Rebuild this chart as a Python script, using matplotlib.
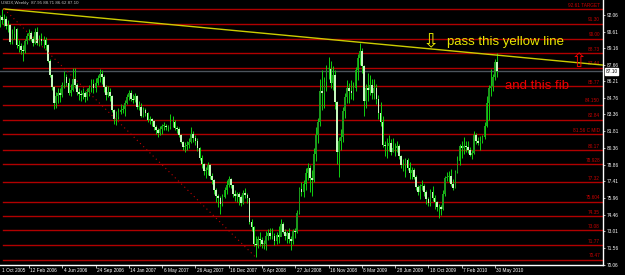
import numpy as np
import matplotlib.pyplot as plt
import matplotlib.transforms as mtransforms

plt.rcParams['font.family'] = ['Liberation Sans', 'DejaVu Sans']

# USDX weekly bars, first bar = week of 30 Oct 2005
first_open = 90.0
closes = [
    91.3, 91.9, 91.6, 91.7, 91.1, 91.2, 89.7, 90.4, 90.8,
    89.4, 89.3, 89.0, 88.9, 89.8, 90.2, 90.5, 90.0, 89.6, 90.6, 89.6, 90.0, 89.8,
    89.9, 89.4, 88.0, 86.8, 85.7, 84.3, 84.9, 85.2, 85.0, 85.9, 86.6, 86.1, 85.2,
    85.5, 86.4, 85.9, 85.3, 85.1, 85.0, 85.2, 84.8, 85.3, 85.6, 86.0, 85.6, 86.1,
    86.5, 86.9, 86.6, 85.7, 85.0, 85.3, 84.9, 83.7, 82.9, 83.1, 83.5, 83.7, 83.8, 84.3,
    84.8, 85.2, 84.7, 84.6, 84.9, 84.0, 84.0, 83.2, 83.7, 83.4, 82.8, 82.9,
    82.7, 82.2, 81.9, 81.7, 82.0, 82.3, 82.3, 82.2, 82.2, 82.6, 82.6, 82.1, 82.0,
    81.5, 80.9, 80.4, 80.5, 80.6, 80.9, 81.6, 81.2, 81.0, 80.3, 79.5, 78.9, 78.3,
    78.4, 78.8, 77.9, 77.5, 76.6, 76.1, 75.9, 75.4, 76.0, 76.6, 77.1, 77.6, 77.1, 76.3,
    76.1, 76.3, 76.0, 75.5, 76.4, 76.2, 75.9, 73.8, 73.4, 71.9, 71.8, 72.3,
    72.2, 71.9, 71.9, 72.6, 72.8, 72.6, 72.6, 72.1, 72.7, 72.5, 73.6, 72.9, 72.6,
    72.8, 72.3, 72.1, 73.0, 72.9, 74.6, 76.7, 76.5, 77.2, 78.1, 78.6, 77.7, 77.5,
    79.8, 81.5, 82.6, 85.4, 85.2, 86.2, 87.3, 87.3, 86.1, 86.8, 84.4, 80.0, 81.0, 81.3,
    83.6, 84.8, 85.6, 85.4, 85.2, 85.6, 87.2, 88.3, 88.9, 87.6, 84.5, 85.6,
    85.5, 85.9, 85.2, 85.6, 84.7, 83.4, 82.6, 80.6, 80.5, 80.5, 80.8, 80.0, 80.3,
    80.3, 80.5, 79.6, 78.8, 78.8, 79.3, 78.6, 78.1, 78.4, 77.8, 76.9, 76.5, 77.0,
    77.0, 76.5, 75.8, 75.5, 76.5, 75.9, 75.6, 75.1, 75.1, 75.0, 76.3, 77.7, 77.8, 77.9,
    77.2, 76.8, 78.2, 79.2, 80.5, 80.3, 80.5, 80.4, 80.2, 79.7, 79.9, 81.5,
    81.0, 80.8, 81.0, 81.3, 82.3, 84.3, 85.6, 85.8, 86.6, 87.9, 87.1,
]
highs = [
    91.5, 92.1, 92.6, 92.2, 92.0, 91.6, 91.3, 90.8, 91.1,
    90.9, 89.9, 89.6, 89.4, 90.0, 90.5, 90.8, 90.7, 90.2, 90.9, 91.0, 90.3, 90.5,
    90.2, 90.1, 89.5, 88.2, 86.9, 85.8, 85.3, 85.6, 85.6, 86.2, 87.1, 86.9, 86.5,
    86.0, 87.4, 87.4, 86.1, 85.6, 85.5, 85.6, 85.4, 85.6, 85.9, 86.4, 86.4, 86.5,
    86.8, 87.3, 87.2, 86.8, 85.9, 85.8, 85.6, 85.0, 83.8, 83.6, 83.9, 84.2, 84.1, 84.6,
    85.1, 85.5, 85.5, 85.1, 85.2, 85.0, 84.5, 84.3, 84.0, 83.9, 83.5, 83.2,
    83.0, 82.8, 82.4, 82.1, 82.3, 82.5, 82.6, 82.5, 82.4, 83.3, 83.2, 82.8, 82.3,
    82.2, 81.6, 81.0, 80.9, 81.0, 81.2, 82.2, 81.8, 81.5, 81.2, 80.4, 79.7, 79.0,
    78.7, 79.1, 78.9, 78.1, 77.6, 76.8, 76.3, 76.1, 76.3, 76.9, 77.5, 77.9, 77.7, 77.1,
    76.6, 76.5, 76.5, 76.2, 76.6, 76.8, 76.4, 75.8, 74.1, 73.5, 72.6, 72.6,
    72.9, 72.5, 72.2, 73.0, 73.2, 73.3, 73.3, 72.8, 72.9, 73.5, 74.1, 73.8, 73.2,
    73.0, 73.3, 72.6, 73.2, 73.3, 74.9, 76.9, 77.3, 77.5, 78.6, 79.0, 78.8, 78.4,
    80.3, 82.2, 83.0, 86.4, 87.2, 86.6, 87.7, 88.4, 88.0, 87.6, 87.2, 84.5, 81.3, 82.0,
    84.0, 85.2, 86.3, 86.1, 86.3, 86.2, 87.5, 88.6, 89.6, 89.2, 87.7, 86.0,
    87.0, 86.8, 86.4, 86.4, 86.0, 85.0, 84.4, 83.2, 81.0, 81.2, 81.5, 81.1, 81.2,
    80.8, 81.0, 80.7, 79.7, 79.4, 79.5, 79.5, 79.1, 78.7, 78.6, 78.0, 77.1, 77.2,
    77.5, 77.2, 76.6, 76.0, 76.7, 77.0, 76.2, 75.7, 75.4, 75.3, 76.6, 77.9, 78.2, 78.3,
    78.5, 77.6, 78.4, 79.6, 80.7, 81.0, 81.3, 81.0, 81.0, 80.4, 80.2, 81.8,
    81.7, 81.3, 81.4, 81.5, 82.6, 84.9, 85.9, 87.3, 86.9, 88.2, 88.7,
]
lows = [
    89.9, 91.0, 91.3, 91.1, 90.8, 90.6, 89.5, 89.5, 90.0,
    89.2, 88.8, 88.6, 88.0, 88.7, 89.5, 89.9, 89.8, 89.3, 89.5, 89.4, 89.3, 89.4,
    89.2, 89.0, 87.9, 86.6, 85.5, 83.8, 83.9, 84.3, 84.4, 84.8, 85.6, 85.8, 85.0,
    84.9, 85.4, 85.6, 85.0, 84.6, 84.5, 84.7, 84.4, 84.6, 84.9, 85.3, 85.2, 85.3,
    85.9, 86.2, 86.0, 85.3, 84.6, 84.8, 84.5, 83.5, 82.5, 82.4, 82.9, 83.3, 83.4, 83.2,
    84.2, 84.6, 84.5, 84.3, 84.4, 83.8, 83.7, 83.1, 83.1, 83.2, 82.6, 82.5,
    82.3, 81.9, 81.6, 81.3, 81.5, 81.6, 81.9, 81.9, 81.8, 82.0, 82.2, 81.9, 81.7,
    81.3, 80.8, 80.2, 80.0, 80.2, 80.3, 80.8, 80.9, 80.6, 80.1, 79.3, 78.6, 78.0,
    77.7, 78.0, 77.6, 77.2, 76.3, 75.6, 75.1, 74.5, 75.2, 75.9, 76.3, 76.9, 76.8, 76.0,
    75.7, 75.6, 75.3, 75.2, 75.4, 75.9, 75.5, 73.6, 73.0, 71.7, 70.7, 71.5,
    71.7, 71.5, 71.4, 71.3, 72.2, 72.3, 72.3, 71.8, 71.9, 72.0, 72.7, 72.8, 72.2,
    72.0, 72.0, 71.3, 71.9, 72.4, 72.8, 74.5, 76.1, 76.0, 76.6, 77.5, 76.5, 76.1,
    77.3, 79.2, 80.8, 82.3, 83.7, 83.9, 85.4, 86.4, 85.6, 85.5, 83.8, 78.9, 77.8, 80.2,
    80.9, 83.0, 84.3, 84.3, 84.7, 84.6, 85.4, 86.3, 87.7, 87.0, 83.2, 83.9,
    84.5, 85.0, 84.7, 84.7, 84.2, 82.9, 82.3, 80.4, 79.6, 79.5, 80.1, 79.7, 80.0,
    79.6, 80.0, 79.4, 78.6, 78.3, 77.8, 78.4, 77.6, 77.6, 77.6, 76.6, 76.2, 75.8,
    76.6, 76.1, 75.4, 75.2, 75.2, 75.7, 75.0, 74.8, 74.2, 74.4, 74.9, 76.1, 77.4, 77.3,
    77.0, 76.6, 76.8, 78.1, 78.8, 79.5, 79.8, 80.0, 79.9, 79.6, 79.4, 79.8,
    80.7, 80.6, 80.2, 80.8, 81.1, 82.2, 82.8, 84.9, 85.4, 86.3, 86.6,
]

# fibonacci levels (red lines) and their captions
fib_levels = [92.61, 91.30, 90.00, 88.73, 87.44, 85.77, 84.150, 82.84, 81.56,
              80.17, 78.928, 77.32, 75.604, 74.35, 73.08, 71.77, 70.47]
fib_labels = ['92.61 TARGET', '91.30', '90.00', '88.73', '87.44', '85.77', '84.150',
              '82.84', '81.56 C MID', '80.17', '78.928', '77.32', '75.604', '74.35',
              '73.08', '71.77', '70.47']

# trend line through the two tops, dotted line top -> 2008 low
trend_pts = [(3, 92.61), (174, 89.67)]
dotted_pts = [(3, 92.61), (124, 70.70)]

price_ticks = [92.06, 90.61, 89.16, 87.66, 86.21, 84.76, 83.36, 81.81, 80.36,
               78.86, 77.41, 75.96, 74.46, 73.01, 71.56, 70.06]
date_idx = [15, 31, 47, 63, 79, 95, 111, 127, 143, 159, 175, 191, 207, 223, 239]
date_labels = ['12 Feb 2006', '4 Jun 2006', '24 Sep 2006', '14 Jan 2007', '6 May 2007',
               '26 Aug 2007', '16 Dec 2007', '6 Apr 2008', '27 Jul 2008', '16 Nov 2008',
               '8 Mar 2009', '28 Jun 2009', '18 Oct 2009', '7 Feb 2010', '30 May 2010']

W, H = 625, 275
fig = plt.figure(figsize=(W / 100, H / 100), dpi=100, facecolor='black')
ax = fig.add_axes([0, 10.5 / H, 603 / W, 264.5 / H])
ax.set_facecolor('black')
xmin, xmax = 1.06, 1.06 + 603 / 2.08
ax.set_xlim(xmin, xmax)
ax.set_ylim(70.06, 93.40)

closes = np.array(closes)
opens = np.concatenate([[first_open], closes[:-1]])
idx = np.arange(len(closes))

# fib lines + captions
for lv, lb in zip(fib_levels, fib_labels):
    ax.plot([2.5, xmax], [lv, lv], color='#b00000', lw=1, zorder=1)
    ax.text(0.995, lv + 0.12, lb, transform=ax.get_yaxis_transform(), ha='right',
            va='bottom', color='#c80000', fontsize=3.4, zorder=2)

# current price line
last = closes[-1]
ax.axhline(last, color='#4c545c', lw=1, zorder=1)

# candles
ax.vlines(idx, lows, highs, color='#10d010', lw=0.7, zorder=3)
up = closes >= opens
body_lo = np.minimum(opens, closes)
body_h = np.maximum(np.abs(closes - opens), 0.06)
ax.bar(idx[up], body_h[up], bottom=body_lo[up], width=0.8, color='#1c9a1c', zorder=4)
ax.bar(idx[~up], body_h[~up], bottom=body_lo[~up], width=0.8, color='#c4f8bc', zorder=4)

# trend line (ray) and dotted line
(x1, y1), (x2, y2) = trend_pts
slope = (y2 - y1) / (x2 - x1)
ax.plot([x1, xmax], [y1, y1 + slope * (xmax - x1)], color='#cccc00', lw=1, zorder=5)
ax.plot([p[0] for p in dotted_pts], [p[1] for p in dotted_pts], color='#c00000',
        lw=0.8, ls=(0, (1, 3)), zorder=5)

# annotations
ax.text(423 / 603, 1 - 41.5 / 264.5, '\u21e9', transform=ax.transAxes, color='#e8e800',
        fontsize=14, ha='left', va='center', family='DejaVu Sans', zorder=6)
ax.text(447 / 603, 1 - 44.5 / 264.5, 'pass this yellow line', transform=ax.transAxes,
        color='#e8e800', fontsize=9.5, ha='left', va='baseline', zorder=6)
ax.text(505 / 603, 1 - 89.3 / 264.5, 'and this fib', transform=ax.transAxes,
        color='#ee0000', fontsize=9.5, ha='left', va='baseline', zorder=6)
ax.text(571 / 603, 1 - 61.5 / 264.5, '\u21e7', transform=ax.transAxes, color='#ee0000',
        fontsize=14, ha='left', va='center', family='DejaVu Sans', zorder=6)

# header
ax.text(0.002, 0.998, 'USDX,Weekly  87.95 88.71 86.62 87.10', transform=ax.transAxes,
        color='#c0c0c0', fontsize=3.2, ha='left', va='top', zorder=7)

# axes styling
for s in ['top', 'left']:
    ax.spines[s].set_visible(False)
for s in ['right', 'bottom']:
    ax.spines[s].set_color('white')
    ax.spines[s].set_linewidth(1)
ax.yaxis.tick_right()
ax.set_yticks(price_ticks)
ax.set_yticklabels([f'{v:.2f}' for v in price_ticks])
ax.tick_params(axis='y', colors='white', labelsize=3.4, length=1.5, width=0.5, pad=1.5)
ax.set_xticks(date_idx)
ax.set_xticklabels([])
ax.tick_params(axis='x', colors='white', length=2.5, width=0.5)
tr = mtransforms.blended_transform_factory(ax.transData, ax.transAxes)
off = mtransforms.ScaledTranslation(1.5 / 100, 0, fig.dpi_scale_trans)
ax.text(xmin, -0.012, '1 Oct 2005', transform=tr + off, color='white', fontsize=3.4,
        ha='left', va='top')
for d, lb in zip(date_idx, date_labels):
    ax.text(d, -0.012, lb, transform=tr + off, color='white', fontsize=3.4,
            ha='left', va='top')

# current price box on the axis
ax.text(1.004, last, f'{last:.2f}', transform=ax.get_yaxis_transform(), color='black',
        fontsize=3.4, ha='left', va='center',
        bbox=dict(boxstyle='square,pad=0.15', fc='white', ec='white'), zorder=8)

fig.savefig('out.png', dpi=100, facecolor='black')
